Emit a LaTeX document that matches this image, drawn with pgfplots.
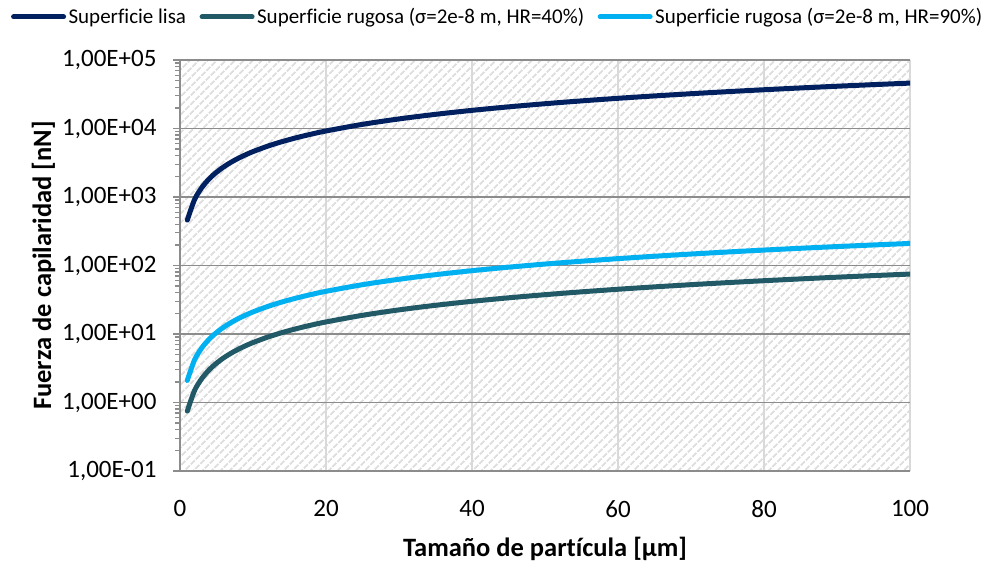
\documentclass[border=0pt]{standalone}
\usepackage{fontspec}
\setmainfont{Carlito}[Ligatures=NoCommon]
\usepackage{pgfplots}
\pgfplotsset{compat=1.18}
\usetikzlibrary{patterns.meta}

\definecolor{lisa}{HTML}{002060}
\definecolor{rug40}{HTML}{215967}
\definecolor{rug90}{HTML}{00B0F0}
\definecolor{hgrid}{HTML}{8C8C8C}
\definecolor{vgrid}{HTML}{D9D9D9}
\definecolor{hatch}{HTML}{DEDEDE}

\begin{document}
\begin{tikzpicture}
\useasboundingbox (-180pt,-94pt) rectangle (810pt,471pt);
\begin{axis}[
    scale only axis,
    width=730pt, height=411pt,
    ymode=log,
    xmin=0, xmax=100,
    ymin=0.1, ymax=100000,
    xtick={0,20,40,60,80,100},
    ytick={0.1,1,10,100,1000,10000,100000},
    yticklabels={{1,00E-01},{1,00E+00},{1,00E+01},{1,00E+02},{1,00E+03},{1,00E+04},{1,00E+05}},
    minor ytick={0.2,0.3,0.4,0.5,0.6,0.7,0.8,0.9,
                 2,3,4,5,6,7,8,9,
                 20,30,40,50,60,70,80,90,
                 200,300,400,500,600,700,800,900,
                 2000,3000,4000,5000,6000,7000,8000,9000,
                 20000,30000,40000,50000,60000,70000,80000,90000},
    /pgf/number format/assume math mode=true,
    font=\fontsize{25}{30}\selectfont,
    tick label style={font=\fontsize{25}{30}\selectfont},
    yticklabel style={xshift=-13pt},
    xticklabel style={yshift=-19pt},
    label style={font=\fontsize{26.5}{31}\selectfont\bfseries},
    xlabel={Tamaño de partícula [µm]},
    ylabel={Fuerza de capilaridad [nN]},
    xlabel style={yshift=-12pt},
    ylabel style={yshift=0pt},
    axis x line*=bottom,
    axis y line*=left,
    axis line style={draw=hgrid, line width=1.8pt, -},
    tick align=outside,
    major tick length=7pt,
    minor tick length=5pt,
    x tick style={draw=none},
    y tick style={draw=hgrid, line width=1.3pt},
    grid=major,
    x grid style={draw=vgrid, line width=2pt},
    y grid style={draw=hgrid, line width=1.8pt},
    axis background/.style={pattern={Lines[angle=45,distance=6.5pt,line width=2pt]}, pattern color=hatch},
    legend columns=3,
    legend style={at={(0.4355,1.105)}, anchor=center, draw=none, fill=none,
        font=\fontsize{21}{25}\selectfont,
        nodes={inner sep=2.5pt},
        /tikz/every even column/.append style={column sep=11pt}},
    legend cell align=left,
    legend image code/.code={\draw[#1, line width=5pt, line cap=round] (0pt,0pt) -- (50pt,0pt);},
    every axis plot/.append style={line width=5pt, line cap=round, line join=round, smooth},
]
\addplot[lisa] coordinates {
 (1,460) (2,920) (3,1380) (4,1840) (5,2300) (6,2760) (7,3220) (8,3680) (9,4140) (10,4600)
 (12,5520) (14,6440) (16,7360) (18,8280) (20,9200) (25,11500) (30,13800) (35,16100)
 (40,18400) (45,20700) (50,23000) (55,25300) (60,27600) (65,29900) (70,32200) (75,34500)
 (80,36800) (85,39100) (90,41400) (95,43700) (100,46000)};
\addlegendentry{Superficie lisa}
\addplot[rug40] coordinates {
 (1,0.75) (2,1.5) (3,2.25) (4,3) (5,3.75) (6,4.5) (7,5.25) (8,6) (9,6.75) (10,7.5)
 (12,9) (14,10.5) (16,12) (18,13.5) (20,15) (25,18.75) (30,22.5) (35,26.25)
 (40,30) (45,33.75) (50,37.5) (55,41.25) (60,45) (65,48.75) (70,52.5) (75,56.25)
 (80,60) (85,63.75) (90,67.5) (95,71.25) (100,75)};
\addlegendentry{Superficie rugosa (σ=2e-8 m, HR=40\%)}
\addplot[rug90] coordinates {
 (1,2.1) (2,4.2) (3,6.3) (4,8.4) (5,10.5) (6,12.6) (7,14.7) (8,16.8) (9,18.9) (10,21)
 (12,25.2) (14,29.4) (16,33.6) (18,37.8) (20,42) (25,52.5) (30,63) (35,73.5)
 (40,84) (45,94.5) (50,105) (55,115.5) (60,126) (65,136.5) (70,147) (75,157.5)
 (80,168) (85,178.5) (90,189) (95,199.5) (100,210)};
\addlegendentry{Superficie rugosa (σ=2e-8 m, HR=90\%)}
\end{axis}
\end{tikzpicture}
\end{document}
